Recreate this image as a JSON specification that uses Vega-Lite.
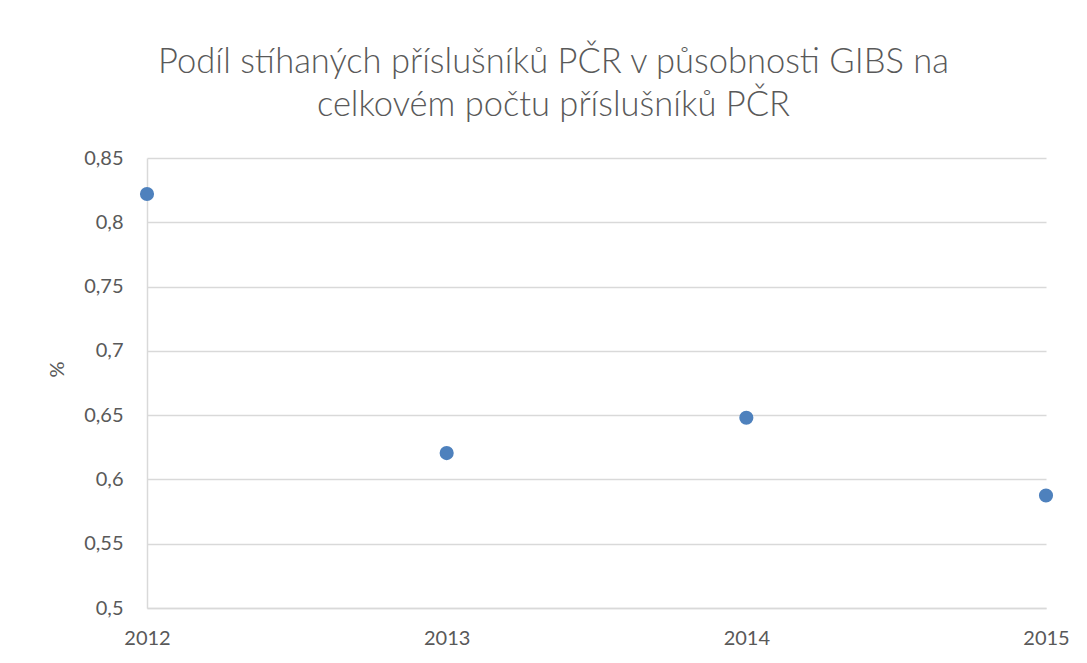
{
  "$schema": "https://vega.github.io/schema/vega-lite/v6.json",
  "width": 899,
  "height": 450,
  "autosize": {"type": "none"},
  "padding": {"left": 147, "top": 158, "right": 41, "bottom": 55},
  "background": "white",
  "title": {
    "text": ["Podíl stíhaných příslušníků PČR v působnosti GIBS na", "celkovém počtu příslušníků PČR"],
    "font": "Lato",
    "fontSize": 34.5,
    "fontWeight": 300,
    "color": "#595959",
    "anchor": "middle",
    "frame": "group",
    "dx": -43,
    "offset": 25,
    "lineHeight": 43
  },
  "data": {
    "values": [
      {"year": 2012, "value": 0.822},
      {"year": 2013, "value": 0.6205},
      {"year": 2014, "value": 0.648},
      {"year": 2015, "value": 0.5875}
    ]
  },
  "mark": {"type": "circle", "size": 200, "color": "#4E81BD", "opacity": 1},
  "encoding": {
    "x": {
      "field": "year",
      "type": "quantitative",
      "scale": {"domain": [2012, 2015], "nice": false, "zero": false},
      "axis": {
        "title": null,
        "values": [2012, 2013, 2014, 2015],
        "format": "d",
        "grid": false,
        "ticks": false,
        "domain": true,
        "domainColor": "#d9d9d9",
        "domainWidth": 1.5,
        "labelFont": "Lato",
        "labelFontSize": 20,
        "labelColor": "#595959",
        "labelPadding": 20,
        "labelFlush": false
      }
    },
    "y": {
      "field": "value",
      "type": "quantitative",
      "scale": {"domain": [0.5, 0.85], "nice": false, "zero": false},
      "axis": {
        "title": "%",
        "titleFont": "Lato",
        "titleFontSize": 20,
        "titleFontWeight": "normal",
        "titleColor": "#595959",
        "titlePadding": 16,
        "titleY": 211,
        "values": [0.5, 0.55, 0.6, 0.65, 0.7, 0.75, 0.8, 0.85],
        "format": ",.2~f",
        "grid": true,
        "gridColor": "#d9d9d9",
        "gridWidth": 1.5,
        "ticks": false,
        "domain": true,
        "domainColor": "#d9d9d9",
        "domainWidth": 1.5,
        "labelFont": "Lato",
        "labelFontSize": 20,
        "labelColor": "#595959",
        "labelPadding": 24,
        "labelExpr": "replace(datum.label, '.', ',')"
      }
    }
  },
  "config": {"view": {"stroke": null}}
}
